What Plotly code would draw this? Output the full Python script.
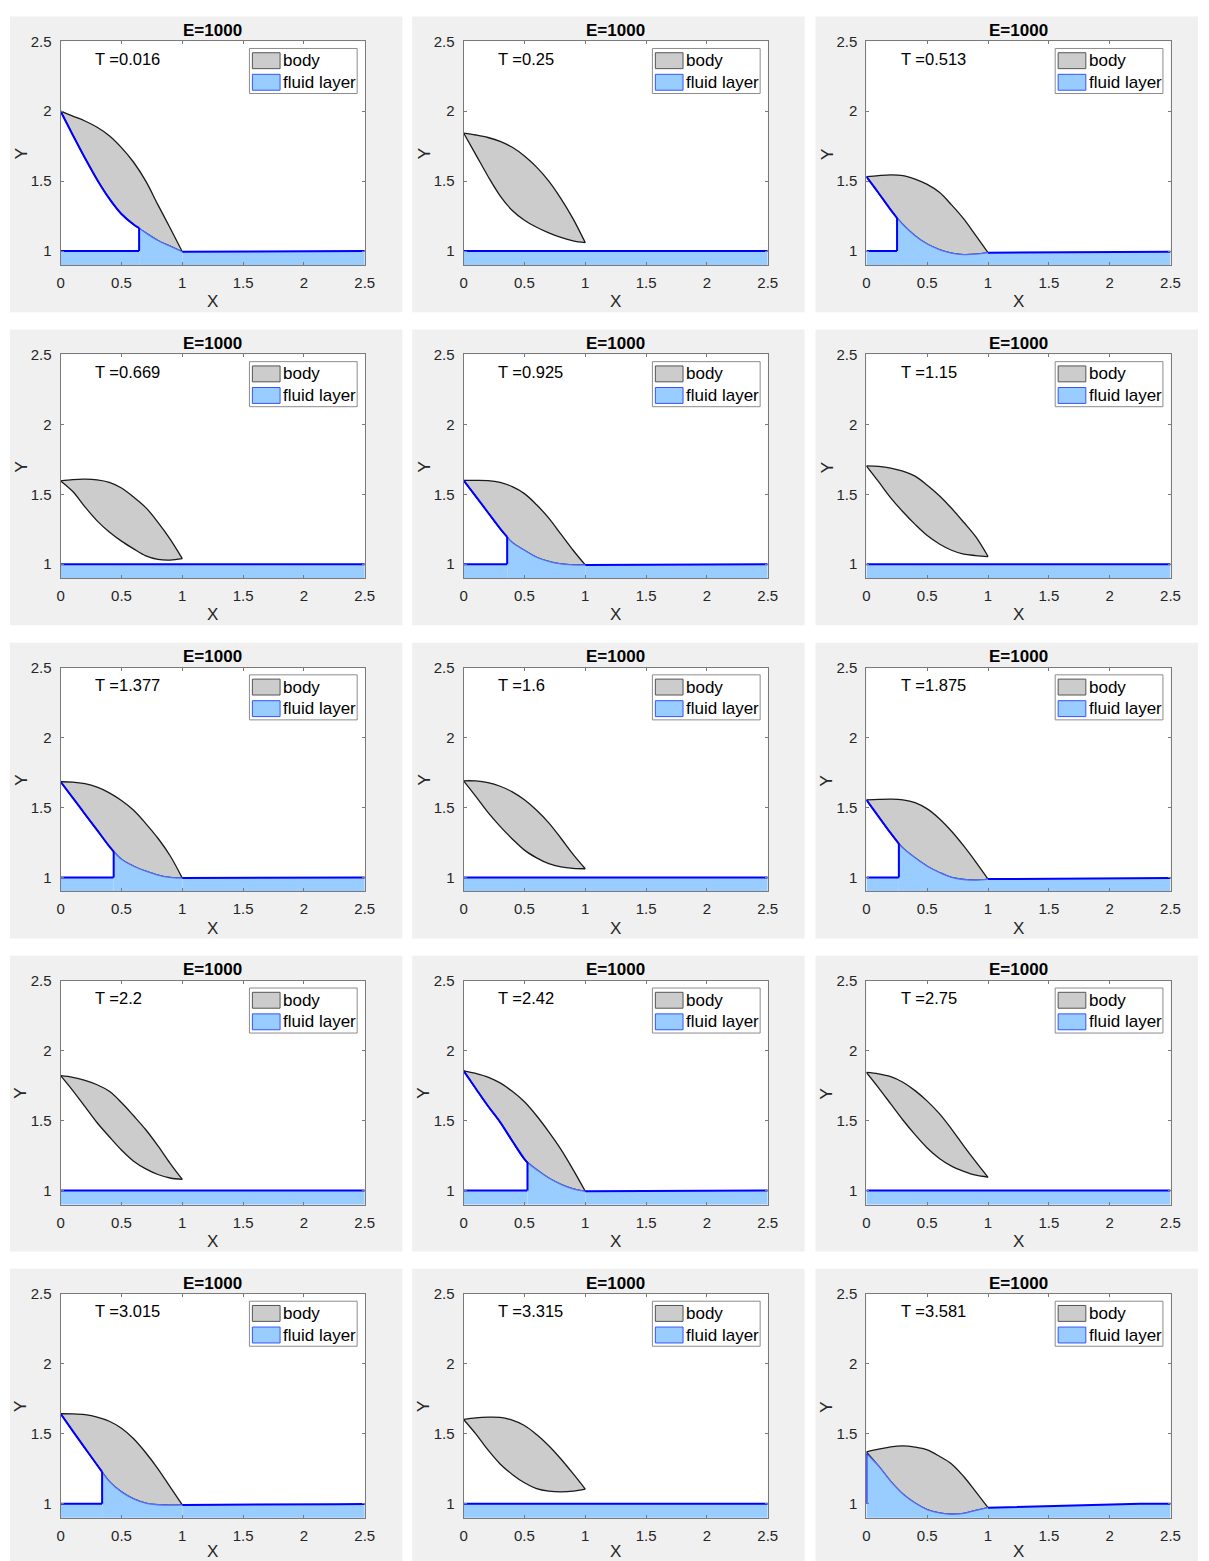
import plotly.graph_objects as go

# ---------------------------------------------------------------------------
# Body outline and fluid layer at fifteen instants (E = 1000)
# ---------------------------------------------------------------------------
E_LABEL = "E=1000"
T_LABELS = ["0.016", "0.25", "0.513", "0.669", "0.925", "1.15", "1.377", "1.6",
            "1.875", "2.2", "2.42", "2.75", "3.015", "3.315", "3.581"]

# stations along the body (x)
X_GRID = [0.0, 0.1, 0.2, 0.3, 0.4, 0.5, 0.6, 0.7, 0.8, 0.9, 1.0]

# upper surface of the body at X_GRID
BODY_TOP = [
    [2.0, 1.965, 1.93, 1.885, 1.825, 1.74, 1.635, 1.5, 1.33, 1.165, 0.995],
    [1.844, 1.83, 1.812, 1.785, 1.742, 1.68, 1.60, 1.50, 1.375, 1.23, 1.06],
    [1.532, 1.54, 1.545, 1.54, 1.515, 1.477, 1.42, 1.33, 1.23, 1.11, 0.988],
    [1.596, 1.605, 1.608, 1.603, 1.585, 1.545, 1.48, 1.405, 1.30, 1.18, 1.04],
    [1.60, 1.60, 1.598, 1.585, 1.555, 1.505, 1.425, 1.33, 1.215, 1.10, 0.995],
    [1.703, 1.70, 1.688, 1.665, 1.63, 1.565, 1.49, 1.40, 1.30, 1.195, 1.055],
    [1.684, 1.682, 1.67, 1.645, 1.605, 1.55, 1.48, 1.385, 1.28, 1.155, 0.995],
    [1.691, 1.69, 1.678, 1.652, 1.612, 1.555, 1.48, 1.39, 1.28, 1.165, 1.062],
    [1.554, 1.558, 1.56, 1.555, 1.535, 1.49, 1.42, 1.33, 1.225, 1.11, 0.988],
    [1.822, 1.81, 1.788, 1.757, 1.71, 1.63, 1.535, 1.435, 1.32, 1.195, 1.08],
    [1.857, 1.838, 1.812, 1.77, 1.71, 1.635, 1.535, 1.42, 1.295, 1.15, 0.995],
    [1.845, 1.835, 1.815, 1.775, 1.715, 1.64, 1.55, 1.44, 1.32, 1.205, 1.095],
    [1.644, 1.643, 1.637, 1.62, 1.59, 1.54, 1.465, 1.365, 1.25, 1.12, 0.992],
    [1.603, 1.615, 1.62, 1.618, 1.598, 1.56, 1.495, 1.415, 1.32, 1.215, 1.105],
    [1.371, 1.39, 1.407, 1.414, 1.405, 1.385, 1.34, 1.285, 1.195, 1.085, 0.972],
]

# lower surface of the body at X_GRID
BODY_BOTTOM = [
    [2.0, 1.83, 1.665, 1.51, 1.375, 1.265, 1.19, 1.13, 1.075, 1.035, 0.995],
    [1.844, 1.69, 1.535, 1.395, 1.29, 1.22, 1.17, 1.13, 1.097, 1.073, 1.06],
    [1.532, 1.415, 1.295, 1.19, 1.11, 1.05, 1.01, 0.985, 0.975, 0.978, 0.988],
    [1.596, 1.52, 1.41, 1.31, 1.23, 1.165, 1.11, 1.06, 1.035, 1.03, 1.04],
    [1.60, 1.485, 1.37, 1.255, 1.155, 1.10, 1.05, 1.02, 1.002, 0.995, 0.995],
    [1.703, 1.59, 1.475, 1.375, 1.285, 1.205, 1.145, 1.10, 1.072, 1.062, 1.055],
    [1.684, 1.569, 1.453, 1.338, 1.222, 1.13, 1.08, 1.045, 1.017, 1.0, 0.995],
    [1.691, 1.58, 1.465, 1.365, 1.275, 1.195, 1.14, 1.098, 1.075, 1.065, 1.062],
    [1.554, 1.435, 1.316, 1.21, 1.14, 1.08, 1.035, 1.0, 0.985, 0.98, 0.988],
    [1.822, 1.715, 1.60, 1.485, 1.385, 1.29, 1.21, 1.155, 1.115, 1.09, 1.08],
    [1.857, 1.73, 1.605, 1.49, 1.355, 1.225, 1.15, 1.09, 1.045, 1.013, 0.995],
    [1.845, 1.735, 1.62, 1.505, 1.40, 1.305, 1.23, 1.175, 1.138, 1.11, 1.097],
    [1.644, 1.52, 1.398, 1.277, 1.16, 1.085, 1.035, 1.005, 0.993, 0.99, 0.992],
    [1.603, 1.50, 1.385, 1.285, 1.21, 1.15, 1.108, 1.09, 1.085, 1.09, 1.105],
    [1.371, 1.27, 1.16, 1.07, 1.005, 0.958, 0.935, 0.925, 0.932, 0.952, 0.972],
]

# edge of the wetted region (None: body not touching the layer)
CONTACT_X = [0.645, None, 0.252, None, 0.358, None, 0.436, None, 0.267, None,
             0.525, None, 0.341, None, 0.0]
CONTACT_Y = [1.165, None, 1.236, None, 1.195, None, 1.185, None, 1.24, None,
             1.20, None, 1.228, None, 1.36]

# free surface of the layer (x = 0 is the undisturbed level)
SURF_X = [0.0, 1.0, 1.25, 1.5, 1.75, 2.0, 2.25, 2.5]
SURFACE = [
    [1.0, 0.995, 0.995, 0.996, 0.997, 0.998, 0.999, 1.0],
    [1.0, 1.0, 1.0, 1.0, 1.0, 1.0, 1.0, 1.0],
    [1.0, 0.988, 0.989, 0.99, 0.991, 0.992, 0.993, 0.994],
    [1.0, 1.0, 1.0, 1.0, 1.0, 1.0, 1.0, 1.0],
    [1.0, 0.995, 0.995, 0.996, 0.997, 0.998, 0.999, 1.0],
    [1.0, 1.0, 1.0, 1.0, 1.0, 1.0, 1.0, 1.0],
    [1.0, 0.995, 0.995, 0.996, 0.997, 0.998, 0.999, 1.0],
    [1.0, 1.0, 1.0, 1.0, 1.0, 1.0, 1.0, 1.0],
    [1.0, 0.988, 0.989, 0.99, 0.991, 0.992, 0.994, 0.995],
    [1.0, 1.0, 1.0, 1.0, 1.0, 1.0, 1.0, 1.0],
    [1.0, 0.995, 0.995, 0.996, 0.997, 0.998, 0.999, 1.0],
    [1.0, 1.0, 1.0, 1.0, 1.0, 1.0, 1.0, 1.0],
    [1.0, 0.992, 0.992, 0.993, 0.994, 0.996, 0.997, 0.998],
    [1.0, 1.0, 1.0, 1.0, 1.0, 1.0, 1.0, 1.0],
    [1.0, 0.972, 0.978, 0.985, 0.993, 0.999, 1.0, 1.0],
]

X_TICKS = [0, 0.5, 1, 1.5, 2, 2.5]
Y_TICKS = [1, 1.5, 2, 2.5]
X_RANGE = [0, 2.5]
Y_RANGE = [0.9, 2.5]

# ---------------------------------------------------------------------------
# Page geometry (pixels)
# ---------------------------------------------------------------------------
W, H = 1209, 1561
COL_X0 = [57.3, 465.0, 872.5]
AX_W = 307.7
ROW_Y0 = [32.5 + 315.0 * r for r in range(5)]
AX_H = 225.0
PANEL_L = [6, 413, 821]
PANEL_R = [403, 810, 1208]
PANEL_T = [7.5 + 314.9 * r for r in range(5)]
PANEL_H = 297.5

FONT = "Liberation Sans, Arial, Helvetica, sans-serif"
BODY_FILL = "#CCCCCC"
BODY_EDGE = "#1A1A1A"
FLUID_FILL = "#99CCFF"
FLUID_EDGE = "#0000FF"
FLUID_EDGE_THIN = "#4F6FFF"
AX_COLOR = "#262626"
SMOOTH = 1.0


def px(x):
    return x / W


def py(y):
    return 1 - y / H


fig = go.Figure()
shapes = []
annotations = []


def note(text, x, y, size, xanchor="center", bold=False, angle=0,
         color="black"):
    annotations.append(dict(
        text=("<b>%s</b>" % text) if bold else text,
        xref="paper", yref="paper", x=px(x), y=py(y),
        xanchor=xanchor, yanchor="middle", showarrow=False, borderpad=0,
        textangle=angle, font=dict(family=FONT, size=size, color=color)))


for i in range(15):
    r, c = divmod(i, 3)
    suffix = "" if i == 0 else str(i + 1)
    xa, ya = "x" + suffix, "y" + suffix
    x0, y0 = COL_X0[c], ROW_Y0[r]
    top, bot = BODY_TOP[i], BODY_BOTTOM[i]
    surf = SURFACE[i]
    xc, yc = CONTACT_X[i], CONTACT_Y[i]

    # body: lower edge, then upper edge filled down to it
    fig.add_trace(go.Scatter(
        x=X_GRID, y=bot, mode="lines", xaxis=xa, yaxis=ya,
        line=dict(color=BODY_EDGE, width=1.3, shape="spline", smoothing=SMOOTH),
        showlegend=False, hoverinfo="skip"))
    fig.add_trace(go.Scatter(
        x=X_GRID, y=top, mode="lines", xaxis=xa, yaxis=ya, fill="tonexty",
        fillcolor=BODY_FILL,
        line=dict(color=BODY_EDGE, width=1.3, shape="spline", smoothing=SMOOTH),
        showlegend=False, hoverinfo="skip"))

    if xc is None:
        # undisturbed layer
        fig.add_trace(go.Scatter(
            x=SURF_X, y=surf, mode="lines", xaxis=xa, yaxis=ya, fill="tozeroy",
            fillcolor=FLUID_FILL, line=dict(color=FLUID_EDGE, width=2),
            showlegend=False, hoverinfo="skip"))
    else:
        # layer ahead of the wetted region
        if xc > 0:
            fig.add_trace(go.Scatter(
                x=[0.0, xc], y=[surf[0], surf[0]], mode="lines", xaxis=xa,
                yaxis=ya, fill="tozeroy", fillcolor=FLUID_FILL,
                line=dict(color=FLUID_EDGE, width=2),
                showlegend=False, hoverinfo="skip"))
        # wetted region under the body
        wx = [xc] + [g for g in X_GRID if g > xc]
        wy = [yc] + [b for g, b in zip(X_GRID, bot) if g > xc]
        fig.add_trace(go.Scatter(
            x=wx, y=wy, mode="lines", xaxis=xa, yaxis=ya, fill="tozeroy",
            fillcolor=FLUID_FILL,
            line=dict(color=FLUID_EDGE_THIN, width=1.3, shape="spline",
                      smoothing=SMOOTH),
            showlegend=False, hoverinfo="skip"))
        # layer behind the body
        fig.add_trace(go.Scatter(
            x=SURF_X[1:], y=surf[1:], mode="lines", xaxis=xa, yaxis=ya,
            fill="tozeroy", fillcolor=FLUID_FILL,
            line=dict(color=FLUID_EDGE, width=2),
            showlegend=False, hoverinfo="skip"))
        # jump at the edge of the wetted region
        fig.add_trace(go.Scatter(
            x=[xc, xc], y=[surf[0], yc], mode="lines", xaxis=xa, yaxis=ya,
            line=dict(color=FLUID_EDGE, width=2),
            showlegend=False, hoverinfo="skip"))
        # fluid sheet along the lower surface ahead of the contact
        if xc > 0:
            sx = [g for g in X_GRID if g < xc] + [xc]
            sy = [b for g, b in zip(X_GRID, bot) if g < xc] + [yc]
            fig.add_trace(go.Scatter(
                x=sx, y=sy, mode="lines", xaxis=xa, yaxis=ya,
                line=dict(color=FLUID_EDGE, width=2, shape="spline",
                          smoothing=SMOOTH),
                showlegend=False, hoverinfo="skip"))

    # axes
    axis_common = dict(
        showgrid=False, zeroline=False, showline=True, linecolor="#7A7A7A",
        linewidth=1, mirror="ticks", ticks="inside", ticklen=3,
        tickcolor="#7A7A7A", tickfont=dict(family=FONT, size=15, color=AX_COLOR),
        fixedrange=True)
    fig.layout["xaxis" + suffix] = dict(
        axis_common, domain=[px(x0), px(x0 + AX_W)], range=X_RANGE,
        tickvals=X_TICKS, anchor=ya, ticklabelstandoff=4)
    fig.layout["yaxis" + suffix] = dict(
        axis_common, domain=[py(y0 + AX_H), py(y0)], range=Y_RANGE,
        tickvals=Y_TICKS, anchor=xa, ticklabelstandoff=5)

    # grey panel behind each axes, white plotting area on top of it
    shapes.append(dict(
        type="rect", xref="paper", yref="paper", layer="below",
        x0=px(PANEL_L[c]), x1=px(PANEL_R[c]),
        y0=py(min(PANEL_T[r] + PANEL_H, H)), y1=py(PANEL_T[r]),
        fillcolor="#F0F0F0", line=dict(width=0)))
    shapes.append(dict(
        type="rect", xref="paper", yref="paper", layer="below",
        x0=px(x0), x1=px(x0 + AX_W), y0=py(y0 + AX_H), y1=py(y0),
        fillcolor="white", line=dict(width=0)))

    # legend box with its two patches
    shapes.append(dict(
        type="rect", xref="paper", yref="paper",
        x0=px(x0 + 191), x1=px(x0 + 300),
        y0=py(y0 + 52.5), y1=py(y0 + 7.2),
        fillcolor="white", line=dict(color="#8C8C8C", width=1)))
    shapes.append(dict(
        type="rect", xref="paper", yref="paper",
        x0=px(x0 + 194), x1=px(x0 + 222),
        y0=py(y0 + 27.5), y1=py(y0 + 11.5),
        fillcolor=BODY_FILL, line=dict(color="#555555", width=1)))
    shapes.append(dict(
        type="rect", xref="paper", yref="paper",
        x0=px(x0 + 194), x1=px(x0 + 222),
        y0=py(y0 + 49.2), y1=py(y0 + 33.2),
        fillcolor=FLUID_FILL, line=dict(color="#3355FF", width=1)))

    note("body", x0 + 224, y0 + 19.5, 17, xanchor="left")
    note("fluid layer", x0 + 224, y0 + 41.2, 17, xanchor="left")
    note("T =" + T_LABELS[i], x0 + 33.5, y0 + 17.5, 16.5, xanchor="left")
    note(E_LABEL, x0 + AX_W / 2, y0 - 11, 17, bold=True)
    x_label_y = min(y0 + AX_H + 37, H - 10)
    note("X", x0 + AX_W / 2, x_label_y, 17, color=AX_COLOR)
    note("Y", x0 - 40, y0 + AX_H / 2 + 1, 17, angle=-90, color=AX_COLOR)

fig.update_layout(
    width=W, height=H, margin=dict(l=0, r=0, t=0, b=0),
    paper_bgcolor="white", plot_bgcolor="white",
    showlegend=False, shapes=shapes, annotations=annotations,
    font=dict(family=FONT))

fig.write_html("out.html")
